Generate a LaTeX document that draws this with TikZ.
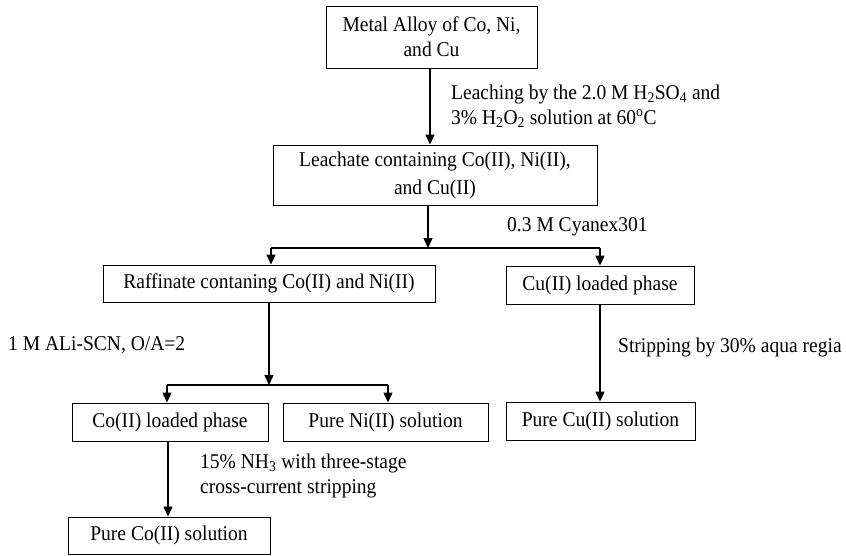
\documentclass[tikz,border=0pt]{standalone}
\usepackage{fontspec}
\setmainfont[FakeStretch=0.93]{Liberation Serif}
\usetikzlibrary{arrows.meta}
\begin{document}
\begin{tikzpicture}[x=1pt,y=-1pt,
  box/.style={draw, line width=1pt, inner sep=0pt, align=center, font=\fontsize{21}{25}\selectfont},
  lbl/.style={inner sep=0pt, anchor=west, align=left, font=\fontsize{21}{25}\selectfont},
  arr/.style={line width=1.5pt, -{Triangle[length=10pt,width=9pt]}},
  ln/.style={line width=1.5pt}]
\useasboundingbox (0,0) rectangle (846,555);
\node[box, minimum width=211pt, minimum height=62pt] (b1) at (431.5,37) {Metal Alloy of Co, Ni,\\ and Cu};
\node[box, minimum width=324pt, minimum height=60pt, font=\fontsize{21}{28}\selectfont] (b2) at (435,175) {Leachate containing Co(II), Ni(II),\\ and Cu(II)};
\node[box, minimum width=332pt, minimum height=37pt] (raf) at (269,283.5) {Raffinate contaning Co(II) and Ni(II)};
\node[box, minimum width=188pt, minimum height=38pt] (cul) at (600,285) {Cu(II) loaded phase};
\node[box, minimum width=196pt, minimum height=38pt] (col) at (170,422) {Co(II) loaded phase};
\node[box, minimum width=205pt, minimum height=38pt] (ni) at (385.5,422) {Pure Ni(II) solution};
\node[box, minimum width=189pt, minimum height=38pt] (pcu) at (600.5,421) {Pure Cu(II) solution};
\node[box, minimum width=202pt, minimum height=37pt] (pco) at (169,535.5) {Pure Co(II) solution};

\node[lbl] (l1) at (451,106) {Leaching by the 2.0 M H\textsubscript{2}SO\textsubscript{4} and\\ 3\% H\textsubscript{2}O\textsubscript{2} solution at 60\textsuperscript{o}C};
\node[lbl] (l2) at (507,227) {0.3 M Cyanex301};
\node[lbl] (l3) at (8,345) {1 M ALi-SCN, O/A=2};
\node[lbl] (l4) at (618,347) {Stripping by 30\% aqua regia};
\node[lbl] (l5) at (200,476) {15\% NH\textsubscript{3} with three-stage\\ cross-current stripping};

\coordinate (j1) at (428,248);
\coordinate (j1l) at (271,248);
\coordinate (j1r) at (600,248);
\coordinate (j2) at (269,385);
\coordinate (j2l) at (167,385);
\coordinate (j2r) at (388,385);

\draw[arr] (b1.south -| 430,0) -- (b2.north -| 430,0);
\draw[arr] (b2.south -| j1) -- (j1);
\draw[ln] (j1l) -- (j1r);
\draw[arr] (j1l) -- (raf.north -| j1l);
\draw[arr] (j1r) -- (cul.north -| j1r);
\draw[arr] (raf.south -| j2) -- (j2);
\draw[ln] (j2l) -- (j2r);
\draw[arr] (j2l) -- (col.north -| j2l);
\draw[arr] (j2r) -- (ni.north -| j2r);
\draw[arr] (col.south -| 168,0) -- (pco.north -| 168,0);
\draw[arr] (cul.south) -- (pcu.north -| cul.south);
\end{tikzpicture}
\end{document}
